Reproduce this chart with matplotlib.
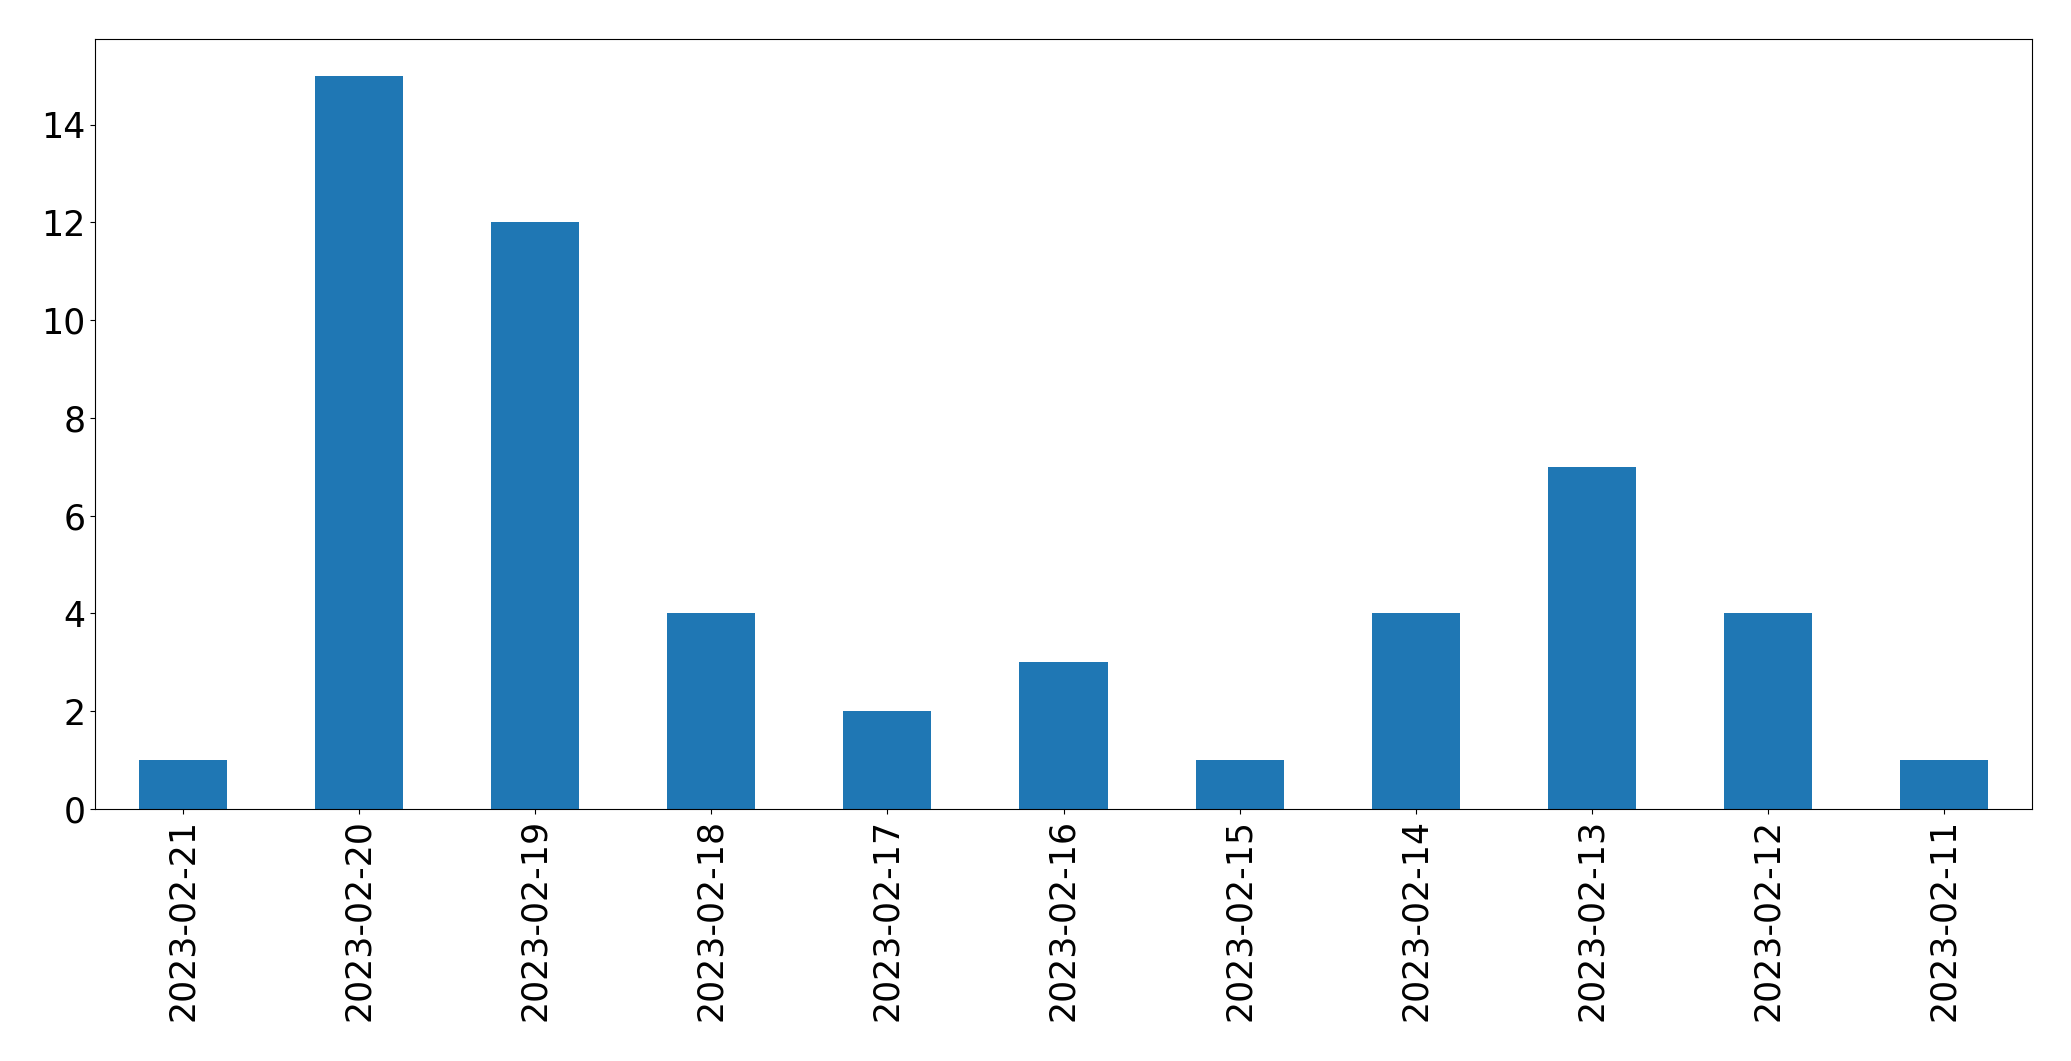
import matplotlib
matplotlib.use("Agg")
import matplotlib.pyplot as plt
import pandas as pd

# daily counts, newest first (as in the source)
dates = ["2023-02-21", "2023-02-20", "2023-02-19", "2023-02-18", "2023-02-17",
         "2023-02-16", "2023-02-15", "2023-02-14", "2023-02-13", "2023-02-12",
         "2023-02-11"]
counts = [1, 15, 12, 4, 2, 3, 1, 4, 7, 4, 1]

s = pd.Series(counts, index=dates)

fig = plt.figure(figsize=(20.71, 10.61), dpi=100)
ax = fig.add_axes([95 / 2071, 1 - 809 / 1061, (2032 - 95) / 2071, (809 - 39) / 1061])
s.plot(kind="bar", ax=ax, color="#1f77b4", fontsize=25)
ax.set_yticks([0, 2, 4, 6, 8, 10, 12, 14])

fig.savefig("out.png", dpi=100)
